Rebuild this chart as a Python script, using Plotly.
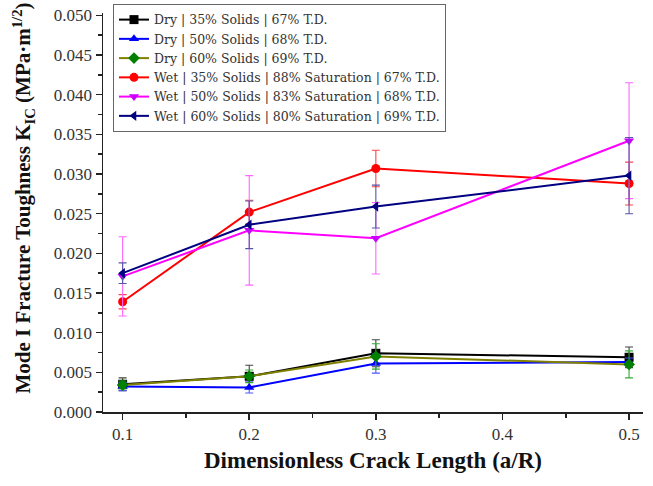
import plotly.graph_objects as go

x_vals = [0.1, 0.2, 0.3, 0.5]

names = [
    "Dry | 35% Solids | 67% T.D.",
    "Dry | 50% Solids | 68% T.D.",
    "Dry | 60% Solids | 69% T.D.",
    "Wet | 35% Solids | 88% Saturation | 67% T.D.",
    "Wet | 50% Solids | 83% Saturation | 68% T.D.",
    "Wet | 60% Solids | 80% Saturation | 69% T.D.",
]

dry35 = [0.0035, 0.0045, 0.0074, 0.0069]
dry35_err = [0.0008, 0.0014, 0.0017, 0.0013]
dry50 = [0.0032, 0.0031, 0.0061, 0.0063]
dry50_err = [0.0005, 0.0007, 0.0012, 0.0005]
dry60 = [0.0034, 0.0045, 0.0070, 0.0060]
dry60_err = [0.0005, 0.0008, 0.0016, 0.0017]
wet35 = [0.0139, 0.0252, 0.0307, 0.0288]
wet35_err = [0.0009, 0.0015, 0.0023, 0.0027]
wet50 = [0.0171, 0.0229, 0.0219, 0.0342]
wet50_err = [0.0050, 0.0069, 0.0045, 0.0073]
wet60 = [0.0175, 0.0236, 0.0259, 0.0298]
wet60_err = [0.0013, 0.0030, 0.0027, 0.0048]

series = [dry35, dry50, dry60, wet35, wet50, wet60]
errors = [dry35_err, dry50_err, dry60_err, wet35_err, wet50_err, wet60_err]
colors = ["#000000", "#0000FF", "#808000", "#FF0000", "#FF00FF", "#000080"]
marker_colors = ["#000000", "#0000FF", "#008000", "#FF0000", "#CC00FF", "#000080"]
err_colors = ["#444444", "#5555FF", "#33AA33", "#FF4444", "#FF66FF", "#5555AA"]
symbols = ["square", "triangle-up", "diamond", "circle", "triangle-down", "triangle-left"]

fig = go.Figure()
for nm, ys, er, c, mc, ec, sym in zip(names, series, errors, colors, marker_colors, err_colors, symbols):
    fig.add_trace(go.Scatter(
        x=x_vals, y=ys, name=nm, mode="lines+markers",
        line=dict(color=c, width=2),
        marker=dict(symbol=sym, size=9, color=mc),
        error_y=dict(type="data", array=er, visible=True, color=ec, thickness=1.1, width=4),
    ))

serif = "Liberation Serif"
fig.update_layout(
    width=653, height=486,
    margin=dict(l=103, r=10, t=13, b=74, autoexpand=False),
    paper_bgcolor="white", plot_bgcolor="white",
    font=dict(family=serif, size=17, color="#222"),
    showlegend=True,
    legend=dict(x=0.0185, y=1.0226, xanchor="left", yanchor="top",
                bgcolor="white", bordercolor="#666", borderwidth=1,
                font=dict(family="DejaVu Serif", size=12.5, color="#333"),
                tracegroupgap=0),
    xaxis=dict(range=[0.0845, 0.511], tickvals=[0.1, 0.2, 0.3, 0.4, 0.5],
               ticktext=["0.1", "0.2", "0.3", "0.4", "0.5"], automargin=False,
               showgrid=False, zeroline=False, showline=True, linecolor="#222", linewidth=1.5,
               ticks="outside", ticklen=6, tickwidth=1.5, tickcolor="#222",
               minor=dict(tickvals=[0.15, 0.25, 0.35, 0.45], ticks="outside", ticklen=4, tickcolor="#222"),
               title=dict(text="<b>Dimensionless Crack Length (a/R)</b>", font=dict(size=23, family=serif, color="#111"), standoff=9),
               tickfont=dict(size=17, family=serif, color="#333")),
    yaxis=dict(range=[0, 0.0503], tickvals=[0, 0.005, 0.01, 0.015, 0.02, 0.025, 0.03, 0.035, 0.04, 0.045, 0.05],
               ticktext=["0.000", "0.005", "0.010", "0.015", "0.020", "0.025", "0.030", "0.035", "0.040", "0.045", "0.050"],
               automargin=False,
               showgrid=False, zeroline=False, showline=True, linecolor="#222", linewidth=1.5,
               ticks="outside", ticklen=6, tickwidth=1.5, tickcolor="#222",
               minor=dict(tickvals=[0.0025, 0.0075, 0.0125, 0.0175, 0.0225, 0.0275, 0.0325, 0.0375, 0.0425, 0.0475],
                          ticks="outside", ticklen=4, tickcolor="#222"),
               tickfont=dict(size=17, family=serif, color="#333")),
    annotations=[dict(
        text="<b>Mode I Fracture Toughness K<sub>IC</sub> (MPa·m<sup>1/2</sup>)</b>",
        textangle=-90, xref="paper", yref="paper", x=-0.148, y=0.535,
        xanchor="center", yanchor="middle", showarrow=False,
        font=dict(size=21, family=serif, color="#111"))],
)

fig.write_html(
    "out.html",
    config={"displayModeBar": False, "staticPlot": True},
    post_script="document.body.style.margin='0px';document.documentElement.style.overflow='hidden';document.body.style.overflow='hidden';",
)
